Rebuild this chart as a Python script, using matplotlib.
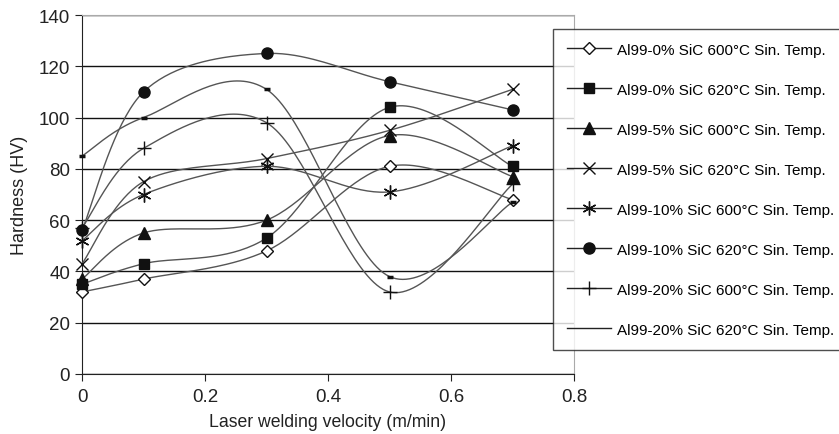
import numpy as np
import matplotlib
matplotlib.use("Agg")
import matplotlib.pyplot as plt

plt.rcParams["font.family"] = ["Liberation Sans", "DejaVu Sans"]

velocity = [0, 0.1, 0.3, 0.5, 0.7]

labels = [
    "Al99-0% SiC 600°C Sin. Temp.",
    "Al99-0% SiC 620°C Sin. Temp.",
    "Al99-5% SiC 600°C Sin. Temp.",
    "Al99-5% SiC 620°C Sin. Temp.",
    "Al99-10% SiC 600°C Sin. Temp.",
    "Al99-10% SiC 620°C Sin. Temp.",
    "Al99-20% SiC 600°C Sin. Temp.",
    "Al99-20% SiC 620°C Sin. Temp.",
]

sic0_600 = [32, 37, 48, 81, 68]
sic0_620 = [35, 43, 53, 104, 81]
sic5_600 = [37, 55, 60, 93, 77]
sic5_620 = [43, 75, 84, 95, 111]
sic10_600 = [52, 70, 81, 71, 89]
sic10_620 = [56, 110, 125, 114, 103]
sic20_600 = [57, 88, 98, 32, 74]
sic20_620 = [85, 100, 111, 38, 67]

series = [sic0_600, sic0_620, sic5_600, sic5_620,
          sic10_600, sic10_620, sic20_600, sic20_620]

# marker, size, face colour
styles = [
    ("D", 6, "white"),
    ("s", 7, "#111111"),
    ("^", 8, "#111111"),
    ("x", 9, "#111111"),
    ((6, 2, 0), 10, "#111111"),
    ("o", 8, "#111111"),
    ("+", 10, "#111111"),
    ("_", 5, "#111111"),
]


def smooth(x, y, n=40):
    # Excel-like smoothed line (Catmull-Rom style bezier)
    x = np.asarray(x, float)
    y = np.asarray(y, float)
    px = np.concatenate([[x[0]], x, [x[-1]]])
    py = np.concatenate([[y[0]], y, [y[-1]]])
    xs, ys = [], []
    t = np.linspace(0, 1, n)
    for i in range(1, len(px) - 2):
        p0 = np.array([px[i], py[i]])
        p3 = np.array([px[i + 1], py[i + 1]])
        c1 = p0 + (np.array([px[i + 1], py[i + 1]]) - np.array([px[i - 1], py[i - 1]])) / 6
        c2 = p3 - (np.array([px[i + 2], py[i + 2]]) - np.array([px[i], py[i]])) / 6
        b = ((1 - t) ** 3)[:, None] * p0 + (3 * (1 - t) ** 2 * t)[:, None] * c1 \
            + (3 * (1 - t) * t ** 2)[:, None] * c2 + (t ** 3)[:, None] * p3
        xs.extend(b[:, 0])
        ys.extend(b[:, 1])
    return xs, ys


fig = plt.figure(figsize=(8.39, 4.35), dpi=100)
ax = fig.add_axes([82 / 839, 60 / 435, 492 / 839, 359 / 435])

line_col = "#555555"
handles = []
for vals, lab, (mk, ms, fc) in zip(series, labels, styles):
    sx, sy = smooth(velocity, vals)
    ax.plot(sx, sy, color=line_col, lw=1.0, zorder=3)
    ax.plot(velocity, vals, ls="none", marker=mk, ms=ms, mfc=fc,
            mec="#111111", mew=1.0 if mk != "_" else 2.5, zorder=4, clip_on=False)
    if mk == "_":
        h, = ax.plot([], [], color="#222222", lw=1.0)
    else:
        h, = ax.plot([], [], color="#222222", lw=1.0, marker=mk, ms=ms,
                     mfc=fc, mec="#111111")
    handles.append(h)

ax.set_xlim(0, 0.8)
ax.set_ylim(0, 140)
ax.set_xticks([0, 0.2, 0.4, 0.6, 0.8])
ax.set_xticklabels(["0", "0.2", "0.4", "0.6", "0.8"])
ax.set_yticks(range(0, 141, 20))
ax.yaxis.grid(True, color="#111111", lw=1.0)
ax.set_axisbelow(True)

for s in ["top", "right"]:
    ax.spines[s].set_color("#aaaaaa")
for s in ["left", "bottom"]:
    ax.spines[s].set_color("#222222")
ax.tick_params(axis="both", labelsize=13.5, colors="#222222", length=5, direction="out")
ax.tick_params(axis="x", pad=5)

ax.set_xlabel("Laser welding velocity (m/min)", fontsize=12.7, color="#222222", labelpad=6)
ax.set_ylabel("Hardness (HV)", fontsize=13, color="#222222", labelpad=8)

leg = fig.legend(handles, labels, loc="upper left",
                 bbox_to_anchor=(553 / 839, 1 - 30 / 435),
                 fontsize=11, frameon=True, fancybox=False, edgecolor="#222222",
                 labelspacing=1.7, handlelength=2.9, handletextpad=0.4,
                 borderpad=0.9, borderaxespad=0)
leg.get_frame().set_linewidth(1.0)

fig.savefig("out.png", dpi=100)
